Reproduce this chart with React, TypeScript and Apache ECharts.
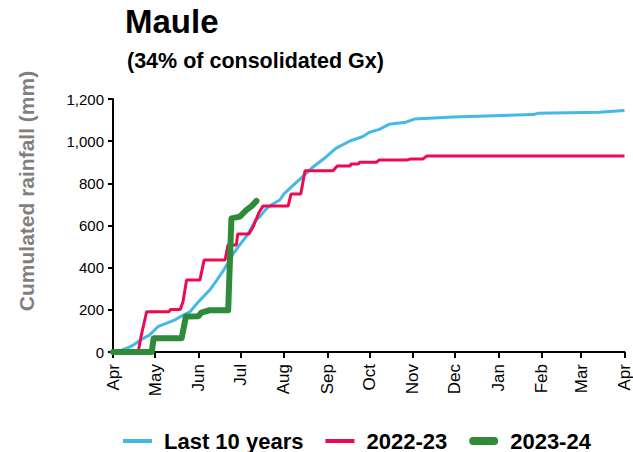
import React, { useEffect, useRef } from "react";
import * as echarts from "echarts";

// Day index counted from 1 April; value = cumulated rainfall (mm)
const monthStarts = [0, 30, 61, 91, 122, 153, 183, 214, 244, 275, 306, 334, 365];
const monthNames = ["Apr", "May", "Jun", "Jul", "Aug", "Sep", "Oct", "Nov", "Dec", "Jan", "Feb", "Mar", "Apr"];

const last10Years: [number, number][] = [
  [0, 0], [5, 6], [10, 18], [14.5, 33], [21.6, 65], [26, 80], [32, 120], [38, 136], [45, 155],
  [50, 175], [55, 191], [59.6, 228], [62, 245], [69, 294], [74, 340], [79, 389], [86, 468],
  [90, 505], [95, 547], [102, 626], [104.8, 642], [109.6, 681], [114, 702], [119, 721],
  [122, 750], [126, 775], [133, 818], [143, 879], [150, 914], [159, 966], [169, 1001],
  [178, 1021], [183, 1042], [190, 1056], [197, 1080], [209, 1090], [215, 1105], [243, 1115],
  [300, 1126], [303, 1132], [347, 1137], [365, 1145],
];

const season2022: [number, number][] = [
  [0, 0], [18, 0], [20, 73], [24, 191], [40, 191], [41, 202], [48, 202], [50, 239], [52.5, 341],
  [62, 341], [65, 436], [80, 436], [82, 507], [88, 507], [89, 560], [97, 560], [100, 594],
  [104, 659], [107, 692], [125, 692], [127, 749], [134, 749], [137, 860], [157, 860], [160, 882],
  [169, 882], [170, 892], [175, 892], [176, 900], [188, 900], [190, 911], [210, 911], [212, 915],
  [221, 915], [224, 930], [365, 930],
];

const season2023: [number, number][] = [
  [0, 0], [27.6, 0], [29, 65], [49, 65], [52, 168], [61, 170], [63, 187], [69, 198], [82.2, 198],
  [84.5, 634], [90.5, 642], [95.3, 674], [98.9, 692], [102.4, 717],
];

const seriesNames = ["Last 10 years", "2022-23", "2023-24"];
const yTicks = { min: 0, max: 1200, interval: 200 };

const FONT = "Liberation Sans, Arial, sans-serif";
const THIN_ICON = "path://M0,0H29V4H0Z";
const THICK_ICON = "path://M4,0H25A4,4,0,0,1,25,8H4A4,4,0,0,1,4,0Z";

export default function App() {
  const ref = useRef<HTMLDivElement>(null);
  useEffect(() => {
    if (!ref.current) return;
    const chart = echarts.init(ref.current, undefined, { renderer: "svg" });
    chart.setOption({
      animation: false,
      backgroundColor: "#fff",
      title: [
        {
          text: "Maule",
          left: 125,
          top: 5,
          padding: 0,
          textStyle: { fontFamily: FONT, fontWeight: "bold", fontSize: 33, color: "#000" },
        },
        {
          text: "(34% of consolidated Gx)",
          left: 127,
          top: 50,
          padding: 0,
          textStyle: { fontFamily: FONT, fontWeight: "bold", fontSize: 21.5, color: "#000" },
        },
      ],
      graphic: [
        {
          type: "text",
          x: 26,
          y: 191,
          rotation: Math.PI / 2,
          style: {
            text: "Cumulated rainfall (mm)",
            fontFamily: FONT,
            fontWeight: "bold",
            fontSize: 21,
            fill: "#7f7f7f",
            textAlign: "center",
            textVerticalAlign: "middle",
          },
        },
      ],
      legend: {
        left: 123,
        top: 430,
        itemWidth: 29,
        itemHeight: 14,
        itemGap: 22,
        padding: 0,
        data: [
          { name: seriesNames[0], icon: THIN_ICON },
          { name: seriesNames[1], icon: THIN_ICON },
          { name: seriesNames[2], icon: THICK_ICON },
        ],
        textStyle: { fontFamily: FONT, fontWeight: "bold", fontSize: 22, color: "#000", padding: [0, 0, 0, 7] },
      },
      grid: { left: 113, right: 8, top: 99, bottom: 100 },
      xAxis: {
        type: "value",
        min: 0,
        max: 365,
        splitLine: { show: false },
        axisLine: { lineStyle: { color: "#000", width: 2 } },
        axisTick: { show: true, length: 6, customValues: monthStarts, lineStyle: { color: "#000", width: 2 } },
        axisLabel: {
          customValues: monthStarts,
          rotate: 90,
          margin: 12,
          fontFamily: FONT,
          fontSize: 17,
          color: "#000",
          formatter: (v: number) => {
            const i = monthStarts.indexOf(Math.round(v));
            return i >= 0 ? monthNames[i] : "";
          },
        },
      },
      yAxis: {
        type: "value",
        min: yTicks.min,
        max: yTicks.max,
        interval: yTicks.interval,
        splitLine: { show: false },
        axisLine: { show: true, lineStyle: { color: "#000", width: 2 } },
        axisTick: { show: true, length: 5, lineStyle: { color: "#000", width: 2 } },
        axisLabel: {
          fontFamily: FONT,
          fontSize: 15,
          color: "#000",
          margin: 9,
          formatter: (v: number) => v.toLocaleString("en-US"),
        },
      },
      series: [
        {
          name: seriesNames[0],
          type: "line",
          data: last10Years,
          symbol: "none",
          lineStyle: { color: "#44b9e8", width: 3 },
          itemStyle: { color: "#44b9e8" },
        },
        {
          name: seriesNames[1],
          type: "line",
          data: season2022,
          symbol: "none",
          lineStyle: { color: "#ee0a4f", width: 3 },
          itemStyle: { color: "#ee0a4f" },
        },
        {
          name: seriesNames[2],
          type: "line",
          data: season2023,
          symbol: "none",
          lineStyle: { color: "#2e8b3a", width: 6, cap: "round", join: "round" },
          itemStyle: { color: "#2e8b3a" },
        },
      ],
    });
    return () => chart.dispose();
  }, []);
  return <div ref={ref} style={{ width: 633, height: 452, position: "absolute", left: 0, top: 0 }} />;
}
